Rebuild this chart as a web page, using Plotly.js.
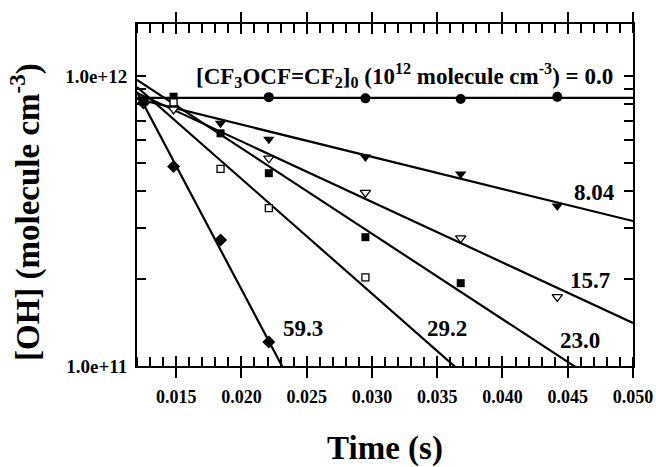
<!DOCTYPE html>
<html>
<head>
<meta charset="utf-8">
<script src="https://cdn.plot.ly/plotly-3.0.1.min.js"></script>
<style>html,body{margin:0;padding:0;background:#fff;}#chart{width:656px;height:467px;}</style>
</head>
<body>
<div id="chart"></div>
<script>
// ---- data ----
const t00 = [0.0125, 0.0221, 0.0295, 0.0368, 0.0442];
const oh00 = [8.2e11, 8.45e11, 8.37e11, 8.33e11, 8.47e11];

const t804 = [0.0125, 0.0148, 0.0184, 0.0221, 0.0295, 0.0368, 0.0442];
const oh804 = [8.2e11, 7.76e11, 6.87e11, 6.05e11, 5.25e11, 4.59e11, 3.56e11];

const t157 = [0.0148, 0.0221, 0.0295, 0.0368, 0.0442];
const oh157 = [7.67e11, 5.2e11, 3.96e11, 2.76e11, 1.73e11];

const t230 = [0.0148, 0.0184, 0.0221, 0.0295, 0.0368];
const oh230 = [8.48e11, 6.34e11, 4.62e11, 2.78e11, 1.93e11];

const t292 = [0.0148, 0.0184, 0.0221, 0.0295];
const oh292 = [8.11e11, 4.78e11, 3.50e11, 2.02e11];

const t593 = [0.0125, 0.0148, 0.0184, 0.0221];
const oh593 = [8.07e11, 4.87e11, 2.72e11, 1.21e11];

// fitted decay lines (end points)
const fitT = [0.012, 0.050];
const fit00 = [8.40e11, 8.40e11];
const fit804 = [8.33e11, 3.16e11];
const fit157 = [8.74e11, 1.407e11];
const fit230 = [9.69e11, 7.36e10];
const fit292 = [9.16e11, 2.87e10];
const fitT593 = [0.012, 0.025];
const fit593 = [8.81e11, 6.9e10];

const concLabels = ['8.04', '15.7', '23.0', '29.2', '59.3'];
const xTickVals = [0.015, 0.020, 0.025, 0.030, 0.035, 0.040, 0.045, 0.050];
const xTickText = ['0.015', '0.020', '0.025', '0.030', '0.035', '0.040', '0.045', '0.050'];
const yLabelVals = [1e11, 1e12];
const yLabelText = ['1.0e+11', '1.0e+12'];
const yTickVals = [1e11, 2e11, 3e11, 4e11, 5e11, 6e11, 7e11, 8e11, 9e11, 1e12];

// ---- drawing ----
const serif = 'Liberation Serif, Times New Roman, serif';
const lineStyle = {color: 'black', width: 2.2};
function fitTrace(x, y, xa, ya) {
  return {x: x, y: y, mode: 'lines', line: lineStyle, xaxis: xa || 'x', yaxis: ya || 'y',
          hoverinfo: 'skip', showlegend: false};
}
function ptTrace(x, y, symbol, filled, size) {
  return {x: x, y: y, mode: 'markers', showlegend: false,
          marker: {symbol: symbol, size: size, color: filled ? 'black' : 'white',
                   line: {color: 'black', width: filled ? 0 : 1.3}}};
}

const traces = [
  fitTrace(fitT, fit00, 'x2', 'y2'),
  fitTrace(fitT, fit804),
  fitTrace(fitT, fit157),
  fitTrace(fitT, fit230),
  fitTrace(fitT, fit292),
  fitTrace(fitT593, fit593),
  ptTrace(t00, oh00, 'circle', true, 10),
  ptTrace(t804, oh804, 'triangle-down', true, 10),
  ptTrace(t157, oh157, 'triangle-down', false, 9),
  ptTrace(t230, oh230, 'square', true, 8),
  ptTrace(t292, oh292, 'square', false, 7),
  ptTrace(t593, oh593, 'diamond', true, 10)
];

const tickFont = {family: serif, size: 18, color: 'black', weight: 'bold'};
const labelFont = {family: serif, size: 23, color: 'black', weight: 'bold'};
const titleFont = {family: serif, size: 33, color: 'black', weight: 'bold'};
const yRange = [11, 12.179];
const xRange = [0.012, 0.050];

function lbl(x, y, text) {
  return {xref: 'paper', yref: 'paper', x: x, y: y, xanchor: 'center', yanchor: 'middle',
          showarrow: false, text: text, font: labelFont};
}

const layout = {
  width: 656, height: 467,
  margin: {l: 137, r: 23, t: 24, b: 101},
  paper_bgcolor: 'white', plot_bgcolor: 'white',
  font: {family: serif, color: 'black'},
  showlegend: false,
  xaxis: {
    range: xRange, showgrid: false, zeroline: false,
    showline: true, linecolor: 'black', linewidth: 2, mirror: 'ticks',
    ticks: 'outside', ticklen: 10, tickwidth: 2, tickcolor: 'black',
    tickvals: xTickVals, ticktext: xTickText, tickfont: tickFont,
    ticklabelstandoff: 3,
    minor: {ticks: 'inside', ticklen: 9, tickwidth: 2, tickcolor: 'black', dtick: 0.001, tick0: 0.012, showgrid: false},
    title: {text: 'Time (s)', font: titleFont, standoff: 30}
  },
  xaxis2: {
    range: xRange, overlaying: 'x', anchor: 'y2', side: 'bottom',
    showgrid: false, zeroline: false, showline: false, mirror: 'ticks',
    ticks: 'inside', ticklen: 10, tickwidth: 2, tickcolor: 'black',
    tickvals: xTickVals, showticklabels: false
  },
  yaxis: {
    type: 'log', range: yRange, showgrid: false, zeroline: false,
    showline: true, linecolor: 'black', linewidth: 2, mirror: 'ticks',
    ticks: 'inside', ticklen: 9, tickwidth: 2, tickcolor: 'black',
    tickvals: yLabelVals, ticktext: yLabelText, ticklabelstandoff: 4,
    tickfont: {family: serif, size: 19, color: 'black', weight: 'bold'}
  },
  yaxis2: {
    type: 'log', range: yRange, overlaying: 'y', anchor: 'x2', side: 'left',
    showgrid: false, zeroline: false, showline: false, mirror: 'ticks',
    ticks: 'inside', ticklen: 9, tickwidth: 2, tickcolor: 'black',
    tickvals: yTickVals, showticklabels: false
  },
  annotations: [
    lbl(0.539, 0.848, '[CF<sub>3</sub>OCF=CF<sub>2</sub>]<sub>0</sub> (10<sup>12</sup> molecule cm<sup>-3</sup>) = 0.0'),
    lbl(0.923, 0.506, concLabels[0]),
    lbl(0.913, 0.251, concLabels[1]),
    lbl(0.893, 0.076, concLabels[2]),
    lbl(0.625, 0.111, concLabels[3]),
    lbl(0.335, 0.111, concLabels[4]),
    {xref: 'paper', yref: 'paper', x: -0.226, y: 0.45, xanchor: 'center', yanchor: 'middle',
     textangle: -90, showarrow: false, text: '[OH] (molecule cm<sup>-3</sup>)', font: titleFont}
  ]
};

Plotly.newPlot('chart', traces, layout, {displayModeBar: false, staticPlot: true});
</script>
</body>
</html>
